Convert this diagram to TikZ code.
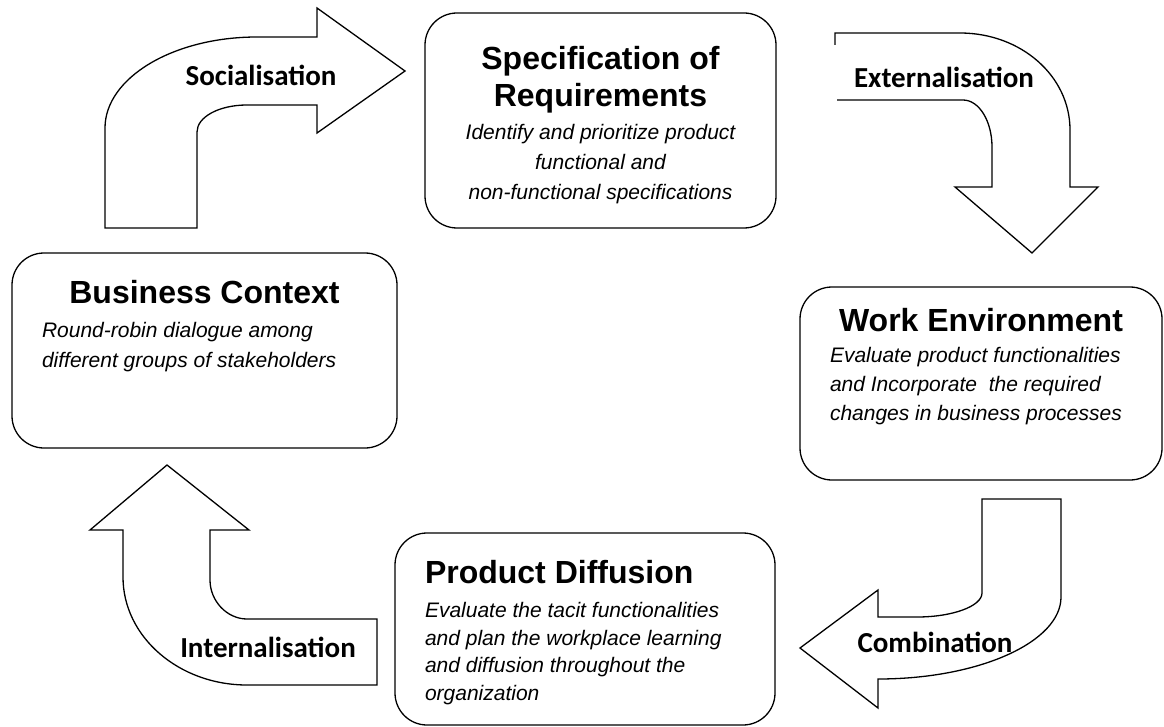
\documentclass[tikz,border=0pt]{standalone}
\usepackage{fontspec}
\setmainfont{Liberation Sans}
\newfontfamily\calibri{Carlito}
\usetikzlibrary{positioning}

\begin{document}
\begin{tikzpicture}[x=1pt,y=-1pt,line width=1.3pt]

  \tikzstyle{stage}=[rectangle,draw,rounded corners=32pt,inner sep=0pt];
  \tikzstyle{heading}=[inner sep=0pt,align=center,font=\bfseries\fontsize{32}{37}\selectfont];
  \tikzstyle{remark}=[inner sep=0pt,font=\itshape\fontsize{21}{29}\selectfont];
  \tikzstyle{mode}=[inner sep=0pt,font=\calibri\bfseries\fontsize{29}{34}\selectfont];

  \useasboundingbox (0,0) rectangle (1164,727);

  % the four stages
  \node[stage,minimum width=351pt,minimum height=215pt] (spec) at (600.5,120.5) {};
  \node[stage,minimum width=385pt,minimum height=195pt] (biz)  at (204.5,350.5) {};
  \node[stage,minimum width=362pt,minimum height=193pt] (work) at (981,383.5) {};
  \node[stage,minimum width=380pt,minimum height=192pt] (prod) at (585,629) {};

  \node[heading] (spectitle) [below=33pt of spec.north] {Specification of\\Requirements};
  \node[remark,align=center,font=\itshape\fontsize{21}{30}\selectfont] (specnote)
    [below=111pt of spec.north]
    {Identify and prioritize product\\functional and\\ non-functional specifications};

  \node[heading] (biztitle) [below=27.5pt of biz.north] {Business Context};
  \node[remark,align=left,font=\itshape\fontsize{21}{30}\selectfont] (biznote)
    [below right=69.5pt and 30pt of biz.north west]
    {Round-robin dialogue among\\different groups of stakeholders};

  \node[heading] (worktitle) [below=21.5pt of work.north] {Work Environment};
  \node[remark,align=left] (worknote) [below right=60.5pt and 30pt of work.north west]
    {Evaluate product functionalities\\and Incorporate\ \ the required\\changes in business processes};

  \node[heading] (prodtitle) [below right=27.5pt and 30pt of prod.north west] {Product Diffusion};
  \node[remark,align=left,font=\itshape\fontsize{21}{27.5}\selectfont] (prodnote)
    [below right=69.5pt and 30pt of prod.north west]
    {Evaluate the tacit functionalities\\and plan the workplace\ learning\\and diffusion throughout\ the\\organization};

  % the bent arrows between the stages
  \draw (105,228) -- (105,128) .. controls (105,78) and (173,37) .. (257,37) -- (317,37)
    -- (317,8) -- (405,71) -- (317,133) -- (317,105) -- (247,105)
    .. controls (219,105) and (197,117) .. (197,132) -- (197,228) -- cycle;
  \node[mode] (soc) at (261,75) {Socialisation};

  \draw (835,45) -- (835,33) -- (960,33) .. controls (1021,33) and (1070,76) .. (1070,130)
    -- (1070,187) -- (1098,187) -- (1032,253) -- (955,187) -- (992,187) -- (992,147)
    .. controls (992,121) and (979,100) .. (963,100) -- (837,100);
  \node[mode] (ext) at (944,77) {Externalisation};

  \draw (982,499) -- (1061,499) -- (1061,597) .. controls (1061,642) and (979,679) .. (878,679)
    -- (878,708) -- (800,648) -- (878,590) -- (878,617) -- (917,617)
    .. controls (953,617) and (982,606) .. (982,593) -- cycle;
  \node[mode] (comb) at (935,642) {Combination};

  \draw (167,465) -- (249,530) -- (210,530) -- (210,580) .. controls (210,601) and (227,619) .. (247,619)
    -- (377,619) -- (377,685) -- (247,685) .. controls (179,685) and (123,637) .. (123,577)
    -- (123,530) -- (90,530) -- cycle;
  \node[mode] (int) at (268,647) {Internalisation};

\end{tikzpicture}
\end{document}
